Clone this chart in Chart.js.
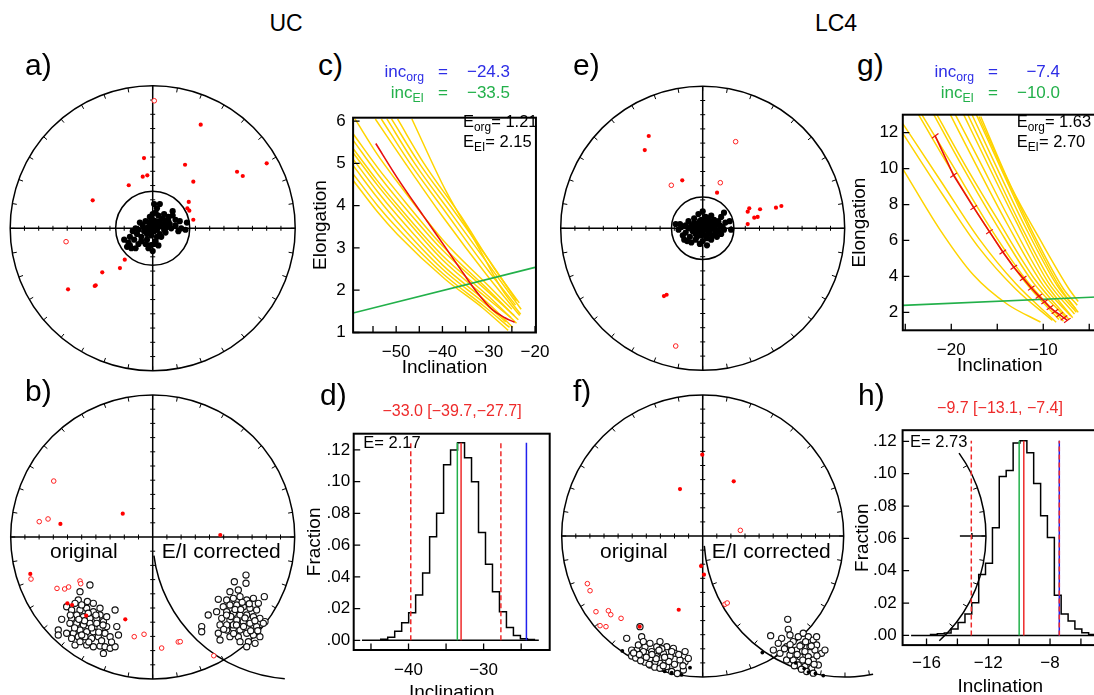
<!DOCTYPE html>
<html><head><meta charset="utf-8">
<script src="https://cdn.jsdelivr.net/npm/chart.js@4.4.1/dist/chart.umd.min.js"></script>
<style>
html,body{margin:0;padding:0;background:#fff;width:1094px;height:695px;overflow:hidden;position:relative;font-family:'Liberation Sans',Arial,Helvetica,sans-serif;}
canvas{position:absolute;}
.t{position:absolute;white-space:pre;line-height:1;}
.t sub{font-size:72%;vertical-align:baseline;position:relative;top:0.32em;}
</style></head><body>
<script>
// ---------------- DATA ----------------
// Stereonet coordinates: x,y in percent of net radius (y up)
const aBlack = [[-18,-13],[-17,-10],[-15,-14],[-12,-14],[-13,-8],[-10,-11],[-8,-6],[-11,-4],[-14,-2],[-16,-6],
[-6,-2],[-4,-8],[-2,-12],[0,-16],[-1,-5],[1,-2],[3,-6],[2,-9],[5,-4],[-3,1],
[-7,2],[-9,4],[-5,5],[-2,4],[0,6],[2,3],[4,1],[6,2],[8,-1],[10,1],
[12,3],[9,5],[7,7],[4,9],[2,11],[0,10],[-2,8],[3,14],[1,17],[5,17],
[8,10],[11,8],[14,9],[16,6],[19,5],[14,12],[18,-2],[23,-1],[24,4],[20,0],
[-4,-4],[-1,-1],[3,-1],[6,-6],[9,-3],[-8,-9],[-5,-11],[-3,-14],[1,-11],[4,-12],
[-12,0],[-10,-1],[-6,0],[-1,2],[2,5],[5,5],[8,3],[11,5],[13,0],[16,2],
[-20,-8],[-16,-12],[0,0],[1,1],[-2,-2]];
const aRedFilled = [[33.7,72.7],[-6.1,49.3],[22.7,44.6],[80,45.6],[59.2,39.7],[63.2,36.7],[-7,36.2],[-3.8,37.2],[28.5,32.7],[-16.8,30.2],[-42.1,19.6],[25.3,18.5],[24.3,14],[25.7,12.4],[28.5,6],[-19.6,-22],[-23,-27.9],[-35.4,-30.9],[-40.7,-40.5],[-40,-40],[-59.4,-42.8]];
const aRedOpen = [[1.1,89.5],[-60.8,-9.4]];
const aAlpha95 = 26;

const bBlackOrig = [[-51.2,-38.5],[-44.2,-33.8],[-52.4,-44.4],[-54.7,-46.7],[-60.6,-49.1],[-57.1,-51.4],[-51.2,-51.4],[-46.5,-50.2],[-41.8,-52.6],[-37.1,-54.9],
[-39.4,-57.3],[-44.2,-57.3],[-48.8,-56.1],[-53.5,-54.9],[-57.1,-57.3],[-64.1,-58],[-58.3,-60.8],[-53.5,-60.8],[-48.8,-62],[-44.2,-60.8],
[-39.4,-60.8],[-37.1,-64.3],[-41.8,-66.7],[-46.5,-66.7],[-51.2,-65.5],[-55.9,-67.8],[-60.6,-67.8],[-66.5,-65.5],[-66.5,-69],[-57.1,-71.4],
[-52.4,-70.2],[-47.7,-70.2],[-43,-71.4],[-38.3,-70.2],[-33.6,-67.8],[-30,-70.2],[-26.5,-51.4],[-24.1,-69],[-25.3,-63.1],[-32.4,-63.1],
[-34.7,-59.6],[-46.5,-76.1],[-41.8,-77.3],[-37.1,-76.8],[-33.6,-77.3],[-30,-78.4],[-26.5,-77.3],[-34.7,-82],[-54.7,-76.1],[-51.2,-73.7],
[-45.4,-53.7],[-50,-47.8],[-46,-45.4],[-41.8,-46.7],[-37.1,-50.2],[-32.4,-56.1],[-48,-59],[-43,-64],[-38,-67],[-55,-64],
[-50,-69],[-45,-74],[-36,-73],[-29,-74],[-40,-55],[-35,-62],[-52,-58],[-58,-55]];
const bBlackEI = [[65.7,-26.8],[57.5,-31.5],[65.7,-32.6],[60.3,-37.3],[54.4,-38.5],[46.2,-43.9],[52.1,-44.4],[56.8,-43.2],[61.5,-42],[66.2,-44.4],
[70.9,-43.2],[74.4,-46.7],[78.6,-42],[73.2,-51.4],[68.5,-50.2],[63.8,-49.1],[59.2,-47.9],[54.4,-47.9],[49.7,-49.1],[52.1,-52.6],
[56.8,-53.8],[61.5,-54.9],[66.2,-54.9],[70.9,-56.1],[75.5,-57.3],[79.1,-59.6],[39.1,-54.9],[45,-52.6],[48.6,-57.3],[54.4,-58.5],
[59.2,-58.5],[63.8,-59.6],[68.5,-60.8],[73.2,-63.1],[77.9,-60.8],[34.5,-63.1],[34.5,-66.7],[46.2,-67.8],[52.1,-65.5],[56.8,-64.3],
[61.5,-65.5],[66.2,-67.8],[70.9,-69],[75.5,-70.2],[47.4,-72.5],[54.4,-70.2],[60.3,-70.2],[67.4,-73.7],[72.1,-74.9],[66.2,-77.3],
[61.5,-73.7],[56.8,-61.9],[52.1,-61.9],[47.4,-61.9],[58,-51],[63,-46],[68,-47],[55,-56],[65,-57],[72,-59],
[50,-65],[59,-62],[64,-63],[69,-66],[74,-66],[57,-68],[52,-55],[62,-51]];
const bRedFilled = [[-86.2,-26],[-65,9.2],[-21.1,16.4],[47.6,1.4],[-60.1,-46.7],[-56.8,-47.9],[-46.8,-55.4],[-19.3,-58]];
const bRedOpen = [[-69.7,39.4],[-79.9,10.8],[-73.7,12.7],[-85.7,-29.6],[-67.4,-36.2],[-62,-36.6],[-59.2,-35.2],[-51.2,-31],[-50.7,-32.9],[-13,-70.2],[-6.1,-68.5],[6.3,-78.2],[18,-73.9],[19.4,-73.7],[43,-83.6]];

const eBlack = [[-19,3],[-17,-1],[-15,1],[-14,-5],[-13,-8],[-11,-9],[-9,-6],[-12,-3],[-10,0],[-8,2],
[-6,4],[-7,-2],[-5,-4],[-4,0],[-3,3],[-2,-2],[-1,1],[0,-3],[1,2],[2,-1],
[3,4],[4,0],[5,-2],[6,3],[7,-5],[8,1],[9,-1],[10,3],[11,-2],[12,2],
[-3,10],[0,12],[2,8],[-1,6],[4,7],[6,9],[13,8],[15,11],[16,4],[19,5],
[20,-1],[15,-1],[13,-4],[10,-6],[3,-7],[0,-9],[-2,-11],[3,-12],[-5,-8],[-8,-10],
[-10,5],[-6,7],[-2,5],[1,5],[5,5],[8,6],[-4,-6],[-1,-5],[2,-5],[6,-8],
[-16,3],[-12,2],[-7,0],[-3,-1],[0,0],[3,1],[6,0],[9,-3],[11,5],[14,1],
[-1,3],[2,2],[-5,2],[4,-4],[7,3]];
const eRedFilled = [[-38,65],[-40.8,55.1],[-14.4,33.8],[10.1,25.1],[32.8,14.1],[31.7,11.7],[40.4,13.4],[51.6,14.5],[55.4,15.7],[36.3,7.5],[38.7,8],[31.7,3],[-27.3,-47.7],[-25.4,-46.8]];
const eRedOpen = [[23.2,61],[-22.1,30.3],[12.4,32.1],[-19,-82.9]];
const eAlpha95 = 22;

const fBlackOrig = [[-53.9,-72.6],[-44.5,-64.3],[-43.3,-71.4],[-40.9,-78.5],[-46.8,-80.9],[-50.4,-85.1],[-47.5,-86.5],[-43.3,-85.6],[-39.7,-83.2],[-36.2,-82],
[-32.6,-78.5],[-30.3,-74.9],[-25.5,-78.5],[-20.8,-79.7],[-19.6,-83.2],[-23.1,-85.6],[-26.7,-87.9],[-30.3,-90.3],[-33.8,-89.1],[-37.4,-91.5],
[-41,-89.5],[-44,-88.5],[-38,-91],[-34,-93],[-30.3,-93.8],[-25.5,-92.6],[-22,-96.1],[-18,-97.5],[-13.7,-95],[-12.5,-89.1],
[-12.5,-82],[-10.2,-86.8],[-16.1,-87.9],[-27.9,-83.2],[-32.6,-85.6],[-37.4,-86.8],[-42.1,-82],[-45.6,-77.3],[-42.1,-74.9],[-37.4,-76.1],
[-50.4,-80.9],[-29,-80],[-22,-82],[-17,-84],[-24,-89],[-28,-92],[-33,-87],[-20,-91],[-14,-92],[-36,-84],
[-31,-81],[-27,-86],[-40,-86],[-45,-84],[-49,-83]];
const fBlackEI = [[48.2,-70.7],[56,-72.6],[60.3,-59.1],[60.7,-66.2],[61.9,-70.2],[53.6,-76.1],[50.1,-80.9],[54.8,-83.2],[59.5,-78.5],[64.2,-74.9],
[67.8,-71.4],[71.3,-69],[74.9,-71.4],[78.4,-73.8],[80.8,-77.3],[84.3,-83.2],[79.6,-80.9],[76.1,-78.5],[72.5,-82],[69,-85.6],
[64.2,-87.9],[59.5,-87.9],[61.9,-84.4],[66.6,-80.9],[70.1,-77.3],[74.9,-85.6],[78.4,-87.9],[82,-91.5],[77.3,-93.8],[72.5,-92.6],
[67.8,-91.5],[73.7,-96.1],[78.4,-97.3],[70,-94.5],[80.8,-71.4],[86.7,-80.9],[63,-81],[67,-84],[71,-88],[75,-89],
[79,-91],[69,-78],[73,-75],[77,-78],[81,-85],[65,-92],[62,-77],[58,-80]];
const fBlackDots = [[-57,-81.5],[-9,-93.4],[-15,-98.5],[-27,-96],[-22,-97],[42.3,-82.7],[85.5,-99],[80,-97.5],[75,-96.5],[66,-90],[72,-94]];
const fRedFilled = [[-0.3,57.7],[-16.1,33.3],[22,38.8],[-1.2,-21.3],[0.9,-27.4],[-44.7,-64.3],[-17,-52.3]];
const fRedOpen = [[26.7,4],[-81.8,-33.8],[-79.9,-38.8],[-75.7,-53.7],[-66.9,-53],[-65.2,-55.8],[-57.9,-58.4],[-72.8,-63.6],[-68.6,-64.3],[15.8,-48.4],[17.4,-47.5]];

// E/I plots: [inclination, elongation]
const cYellow = [
[[-59.3,4.6],[-54,3.85],[-49.7,3.32],[-39.4,2.26],[-31.3,1.58],[-25.8,1.05]],
[[-59.3,4.75],[-54,4.0],[-50,3.5],[-40,2.4],[-31,1.62],[-25.5,1.12]],
[[-59.3,4.95],[-54,4.18],[-50,3.65],[-40,2.5],[-31,1.7],[-26.3,1.25]],
[[-59.3,5.1],[-54,4.33],[-50,3.8],[-40,2.6],[-30,1.68],[-24.8,1.12]],
[[-59.3,5.25],[-54,4.48],[-50,3.95],[-40,2.72],[-30,1.78],[-25.2,1.35]],
[[-59.3,5.35],[-54,4.58],[-50,4.05],[-40,2.82],[-30,1.85],[-24.0,1.22]],
[[-59.3,5.55],[-54,4.75],[-50,4.2],[-40,2.95],[-30,1.95],[-24.5,1.4]],
[[-59.3,5.7],[-54,4.9],[-50,4.35],[-40,3.05],[-30,2.0],[-23.6,1.3]],
[[-58.9,6.05],[-54,5.2],[-50,4.6],[-40,3.2],[-30,2.1],[-25.0,1.55]],
[[-54.5,6.05],[-48,5.0],[-40,3.75],[-30,2.3],[-23.3,1.4]],
[[-53.2,6.05],[-47,5.0],[-40,3.95],[-30,2.45],[-24.2,1.65]],
[[-52.0,6.05],[-46,5.0],[-38,3.8],[-30,2.6],[-23.0,1.55]],
[[-51.0,6.05],[-45,5.0],[-38,3.95],[-30,2.72],[-24.0,1.75]],
[[-49.7,6.05],[-44,5.0],[-36,3.75],[-29,2.55],[-23.4,1.7]],
[[-46.6,6.05],[-39.4,4.38],[-32.6,3.09],[-27.2,2.03],[-23.1,1.43]]];
const cRed = [[-54.4,5.47],[-49.65,4.64],[-44.2,3.77],[-39.4,3.02],[-35.3,2.37],[-32.6,1.96],[-29.2,1.54],[-26.5,1.35],[-24.4,1.24]];
const cGreen = [[-59.3,1.46],[-20,2.54]];

const gYellow = [
[[-25.27,9.99],[-21.2,6.58],[-17.56,4.06],[-13.9,2.45],[-10.3,1.46]],
[[-25.27,11.96],[-21,8.6],[-17,5.6],[-13,3.3],[-9.0,1.55]],
[[-25.27,12.5],[-21,9.2],[-17,6.1],[-13,3.6],[-8.6,1.45]],
[[-23.56,13.0],[-20,9.9],[-16,6.6],[-12,3.7],[-8.3,1.6]],
[[-23.2,13.0],[-20,10.3],[-16,6.9],[-12,3.9],[-7.8,1.5]],
[[-21.9,13.0],[-19,10.3],[-15,6.8],[-11,3.6],[-7.5,1.7]],
[[-21.56,13.0],[-18.5,10.2],[-15,7.2],[-11,3.9],[-7.2,1.6]],
[[-20.1,13.0],[-17.5,10.4],[-14,7.0],[-10,3.5],[-7.0,1.8]],
[[-19.56,13.0],[-17,10.5],[-14,7.5],[-10,3.8],[-6.8,1.7]],
[[-18.65,13.0],[-16,10.2],[-13,7.1],[-9.5,3.7],[-6.6,1.9]],
[[-18.2,13.0],[-15.5,10.1],[-12.5,6.9],[-9,3.6],[-6.4,2.0]],
[[-17.74,13.0],[-15,10.0],[-12,6.8],[-8.5,3.5],[-6.5,2.2]],
[[-17.27,13.0],[-14.5,9.9],[-11.5,6.6],[-8.2,3.4],[-6.2,2.0]],
[[-17.0,12.9],[-14,9.5],[-11,6.3],[-7.8,3.3],[-6.3,2.4]],
[[-16.8,12.9],[-13.5,9.0],[-10.3,6.0],[-7.2,3.3],[-6.2,2.6]]];
const gRed = [[-21.75,11.82],[-19.75,9.63],[-17.56,7.83],[-15.85,6.49],[-14.4,5.36],[-13.2,4.51],[-12.18,3.89],[-11.3,3.35],[-10.47,2.9],[-9.85,2.59],[-9.27,2.27],[-8.73,2.05],[-8.22,1.87],[-7.75,1.69],[-7.38,1.55]];
const gGreen = [[-25.27,2.39],[-4.2,2.85]];

// Histograms
const dEdges = [-43.70,-42.77,-41.84,-40.91,-39.98,-39.05,-38.12,-37.19,-36.26,-35.33,-34.40,-33.47,-32.54,-31.61,-30.68,-29.75,-28.82,-27.89,-26.96,-26.03,-25.10,-24.17,-23.24];
const dVals = [0.0006,0.002,0.0057,0.011,0.0173,0.0286,0.0424,0.0653,0.080,0.1106,0.120,0.1245,0.115,0.100,0.068,0.048,0.0306,0.018,0.008,0.003,0.001,0.0005];
const dBase = [-46.2,-22.65];
const dIncOrg = -24.3, dIncEI = -33.5, dMean = -33.0, dCI = [-39.7,-27.7];

const hEdges = [-15.74,-15.30,-14.85,-14.41,-13.96,-13.51,-13.07,-12.62,-12.18,-11.73,-11.29,-10.84,-10.39,-9.95,-9.50,-9.06,-8.61,-8.17,-7.72,-7.28,-6.83,-6.39,-5.94,-5.50,-5.05];
const hVals = [0.0005,0.001,0.0015,0.004,0.0079,0.0133,0.0202,0.0377,0.0446,0.0665,0.0982,0.102,0.119,0.1204,0.113,0.094,0.074,0.0605,0.0248,0.0133,0.0089,0.004,0.0016,0.0005];
const hBase = [-17.0,-5.0];
const hIncOrg = -7.4, hIncEI = -10.0, hMean = -9.7, hCI = [-13.1,-7.4];

// Ticks
const cXTicks = [-55,-50,-45,-40,-35,-30,-25,-20], cXLabels = ['','−50','','−40','','−30','','−20'];
const cYTicks = [1,2,3,4,5,6], cYLabels = ['1','2','3','4','5','6'];
const gXTicks = [-25,-20,-15,-10,-5], gXLabels = ['','−20','','−10',''];
const gYTicks = [2,4,6,8,10,12], gYLabels = ['2','4','6','8','10','12'];
const dXTicks = [-45,-40,-35,-30,-25], dXLabels = ['','−40','','−30',''];
const hXTicks = [-16,-14,-12,-10,-8,-6], hXLabels = ['−16','','−12','','−8',''];
const fracTicks = [0,0.02,0.04,0.06,0.08,0.10,0.12], fracLabels = ['.00','.02','.04','.06','.08','.10','.12'];
const netAxisTicks = [0.1,0.2,0.3,0.4,0.5,0.6,0.7,0.8,0.9];
const netRimStep = 10;

// ---------------- COLOURS ----------------
const BLUE = '#2d2de6', GREEN = '#22b04a', RED = '#ee2a2a', YEL = '#ffd400', LRED = '#e81010';

Chart.defaults.font.family = "'Liberation Sans', Arial, Helvetica, sans-serif";
Chart.defaults.color = '#000';

const P = a => a.map(([x,y]) => ({x, y}));

function mkCanvas(b) {
  const c = document.createElement('canvas');
  c.width = Math.round(b.w); c.height = Math.round(b.h);
  c.style.left = b.x + 'px'; c.style.top = b.y + 'px';
  document.body.appendChild(c);
  return c;
}

const stereoPlugin = {
  id: 'stereo',
  beforeDatasetsDraw(chart, args, o) {
    const ctx = chart.ctx, xs = chart.scales.x, ys = chart.scales.y;
    const cx = xs.getPixelForValue(0), cy = ys.getPixelForValue(0);
    const R = xs.getPixelForValue(100) - cx;
    ctx.save();
    ctx.strokeStyle = '#000'; ctx.lineWidth = 1.5;
    ctx.beginPath(); ctx.arc(cx, cy, R, 0, 2*Math.PI); ctx.stroke();
    ctx.beginPath(); ctx.moveTo(cx-R, cy); ctx.lineTo(cx+R, cy); ctx.moveTo(cx, cy-R); ctx.lineTo(cx, cy+R); ctx.stroke();
    ctx.lineWidth = 1;
    ctx.beginPath();
    for (const f of netAxisTicks) {
      const d = f*R;
      for (const s of [-1,1]) {
        ctx.moveTo(cx+s*d, cy-2.5); ctx.lineTo(cx+s*d, cy+2.5);
        ctx.moveTo(cx-2.5, cy+s*d); ctx.lineTo(cx+2.5, cy+s*d);
      }
    }
    for (let a = 0; a < 360; a += netRimStep) {
      const t = a*Math.PI/180;
      ctx.moveTo(cx+R*Math.cos(t), cy+R*Math.sin(t));
      ctx.lineTo(cx+(R-4.5)*Math.cos(t), cy+(R-4.5)*Math.sin(t));
    }
    ctx.stroke();
    if (o.inner) {
      ctx.lineWidth = 1.5;
      ctx.beginPath(); ctx.arc(cx, cy, o.inner/100*R, 0, 2*Math.PI); ctx.stroke();
    }
    if (o.ei) {
      const ex = xs.getPixelForValue(o.ei.cx);
      ctx.lineWidth = 1.5;
      for (const [a1, a2] of o.ei.ranges) {
        ctx.beginPath(); ctx.arc(ex, cy, R, a1*Math.PI/180, a2*Math.PI/180, true); ctx.stroke();
        if (o.ei.ticks) {
          ctx.lineWidth = 1; ctx.beginPath();
          for (let a = Math.ceil(a2/10)*10; a <= a1; a += 10) {
            const t = a*Math.PI/180;
            ctx.moveTo(ex+R*Math.cos(t), cy+R*Math.sin(t));
            ctx.lineTo(ex+(R-4.5)*Math.cos(t), cy+(R-4.5)*Math.sin(t));
          }
          ctx.stroke(); ctx.lineWidth = 1.5;
        }
      }
      if (o.ei.stub) {
        ctx.beginPath(); ctx.moveTo(ex+0.815*R, cy); ctx.lineTo(ex+R, cy);
        ctx.moveTo(ex+0.9*R, cy-3); ctx.lineTo(ex+0.9*R, cy+3); ctx.stroke();
      }
    }
    ctx.restore();
  }
};

function stereo(cx, cy, R, box, sets, opt) {
  const area = {l: cx-R, r: cx+R, t: cy-R, b: cy+R};
  const c = mkCanvas(box);
  new Chart(c, {
    type: 'scatter',
    data: {datasets: sets},
    plugins: [stereoPlugin],
    options: {
      responsive: false, animation: false, devicePixelRatio: 1,
      layout: {padding: {left: area.l-box.x, top: area.t-box.y, right: box.x+box.w-area.r, bottom: box.y+box.h-area.b}},
      scales: {x: {type:'linear', min:-100, max:100, display:false}, y: {type:'linear', min:-100, max:100, display:false}},
      plugins: {legend: {display:false}, tooltip: {enabled:false}, stereo: opt}
    }
  });
}

const ds = {
  blackFilled: d => ({data:P(d), pointRadius:3.1, pointBackgroundColor:'#000', pointBorderWidth:0, order:3, clip:false}),
  blackSmall: d => ({data:P(d), pointRadius:1.9, pointBackgroundColor:'#000', pointBorderWidth:0, order:2, clip:false}),
  blackOpen: d => ({data:P(d), pointRadius:3.1, pointBackgroundColor:'#fff', pointBorderColor:'#111', pointBorderWidth:1.15, order:4, clip:false}),
  redFilled: d => ({data:P(d), pointRadius:2.1, pointBackgroundColor:'#ff0000', pointBorderWidth:0, order:0, clip:false}),
  redOpen: d => ({data:P(d), pointRadius:2.3, pointBackgroundColor:'#fff', pointBorderColor:'#ff2020', pointBorderWidth:1, order:1, clip:false})
};

const framePlugin = {
  id: 'frame',
  afterDatasetsDraw(chart, args, o) {
    const ctx = chart.ctx, a = chart.chartArea, xs = chart.scales.x, ys = chart.scales.y;
    ctx.save();
    ctx.strokeStyle = '#000'; ctx.lineWidth = 1.3;
    ctx.beginPath();
    for (const v of o.xTicks) { const px = xs.getPixelForValue(v); ctx.moveTo(px, a.bottom); ctx.lineTo(px, a.bottom-6.5); }
    for (const v of o.yTicks) { const py = ys.getPixelForValue(v); ctx.moveTo(a.left, py); ctx.lineTo(a.left+6.5, py); }
    ctx.stroke();
    ctx.lineWidth = 2;
    ctx.strokeRect(a.left, a.top, a.right-a.left, a.bottom-a.top);
    ctx.restore();
  }
};

function plot(box, area, o) {
  const c = mkCanvas(box);
  new Chart(c, {
    type: 'scatter',
    data: {datasets: o.datasets},
    plugins: [framePlugin],
    options: {
      responsive: false, animation: false, devicePixelRatio: 1,
      layout: {padding: {left: 0, top: area.t-box.y, right: box.x+box.w-area.r, bottom: 0}},
      elements: {point: {radius: 0}},
      scales: {
        x: {type:'linear', min:o.xMin, max:o.xMax, bounds:'data',
          afterBuildTicks: s => { s.ticks = o.xTicks.map(v => ({value:v})); },
          afterFit: s => { s.height = box.y+box.h-area.b; },
          ticks: {autoSkip:false, maxRotation:0, padding:o.xPad, font:{size:17}, color:'#000', callback:(v,i) => o.xLabels[i]},
          grid: {display:false, drawTicks:false}, border: {display:false},
          title: {display:true, text:'Inclination', font:{size:19}, color:'#000', padding:0}},
        y: {type:'linear', min:o.yMin, max:o.yMax, bounds:'data',
          afterBuildTicks: s => { s.ticks = o.yTicks.map(v => ({value:v})); },
          afterFit: s => { s.width = area.l-box.x; },
          ticks: {autoSkip:false, padding:o.yPad, font:{size:17}, color:'#000', callback:(v,i) => o.yLabels[i]},
          grid: {display:false, drawTicks:false}, border: {display:false},
          title: {display:true, text:o.yTitle, font:{size:19}, color:'#000', padding:0}}
      },
      plugins: {legend:{display:false}, tooltip:{enabled:false}, frame:{xTicks:o.xTicks, yTicks:o.yTicks}}
    }
  });
}

const lineDs = (d, color, w, order, extra) => Object.assign({data:P(d), showLine:true, borderColor:color, borderWidth:w, pointRadius:0, order}, extra||{});

function histSets(edges, vals, base, incOrg, incEI, mean, ci) {
  const pts = [[edges[0],0]];
  vals.forEach((v,i) => pts.push([edges[i], v]));
  pts.push([edges[edges.length-1], 0]);
  const top = Math.max(...vals);
  const vl = (x, col, dash, ord) => lineDs([[x,0],[x,top]], col, 1.5, ord, dash ? {borderDash:[5,3]} : {});
  return [
    lineDs(pts, '#000', 1.5, 5, {stepped:true}),
    lineDs([[base[0],0],[base[1],0]], '#000', 1.5, 6),
    vl(incOrg, '#2020ee', false, 4),
    vl(ci[0], RED, true, 1), vl(ci[1], RED, true, 1),
    vl(incEI, GREEN, false, 3),
    vl(mean, RED, false, 2)
  ];
}

// ---------------- STEREONETS ----------------
stereo(152.7, 228.3, 142.5, {x:0, y:78, w:310, h:300},
  [ds.blackFilled(aBlack), ds.redFilled(aRedFilled), ds.redOpen(aRedOpen)], {inner:aAlpha95});
stereo(152.7, 537, 142, {x:0, y:385, w:450, h:310},
  [ds.blackOpen(bBlackOrig), ds.blackOpen(bBlackEI), ds.redFilled(bRedFilled), ds.redOpen(bRedOpen)],
  {ei:{cx:100, ranges:[[172.5,94]], ticks:false, stub:false}});
stereo(702.7, 228.3, 142, {x:550, y:78, w:300, h:300},
  [ds.blackFilled(eBlack), ds.redFilled(eRedFilled), ds.redOpen(eRedOpen)], {inner:eAlpha95});
stereo(702.7, 536, 141, {x:550, y:385, w:544, h:310},
  [ds.blackOpen(fBlackOrig), ds.blackOpen(fBlackEI), ds.blackSmall(fBlackDots), ds.redFilled(fRedFilled), ds.redOpen(fRedOpen)],
  {ei:{cx:100.9, ranges:[[176,78.5],[48,-36]], ticks:true, stub:true}});

// ---------------- E/I PLOTS ----------------
plot({x:308.6, y:100, w:250, h:279}, {l:352.7, t:108.3, r:546, b:332.5}, {
  xMin:-59.3, xMax:-19.8, yMin:1, yMax:6.08, xTicks:cXTicks, xLabels:cXLabels, yTicks:cYTicks, yLabels:cYLabels,
  xPad:9.5, yPad:7.5, yTitle:'Elongation',
  datasets: [...cYellow.map(c => lineDs(c, YEL, 1.5, 3, {cubicInterpolationMode:'monotone'})),
             lineDs(cRed, LRED, 1.6, 0, {cubicInterpolationMode:'monotone'}), lineDs(cGreen, GREEN, 1.6, 1)]
});
plot({x:847.9, y:100, w:260, h:277.4}, {l:902.7, t:108.3, r:1096.5, b:330.7}, {
  xMin:-25.27, xMax:-4.2, yMin:1, yMax:13, xTicks:gXTicks, xLabels:gXLabels, yTicks:gYTicks, yLabels:gYLabels,
  xPad:9.5, yPad:4.5, yTitle:'Elongation',
  datasets: [...gYellow.map(c => lineDs(c, YEL, 1.5, 3, {cubicInterpolationMode:'monotone'})),
             lineDs(gRed, LRED, 1.6, 0, {pointRadius:4, pointStyle:'line', pointRotation:-35, pointBorderColor:LRED, pointBorderWidth:1.2}),
             lineDs(gGreen, GREEN, 1.6, 1)]
});

// ---------------- HISTOGRAMS ----------------
plot({x:302.6, y:420, w:253, h:284}, {l:353.3, t:427.3, r:549.3, b:650}, {
  xMin:-47.3, xMax:-21.2, yMin:-0.0061, yMax:0.1302, xTicks:dXTicks, xLabels:dXLabels, yTicks:fracTicks, yLabels:fracLabels,
  xPad:10, yPad:3.5, yTitle:'Fraction',
  datasets: histSets(dEdges, dVals, dBase, dIncOrg, dIncEI, dMean, dCI)
});
plot({x:851.1, y:414, w:260, h:283.9}, {l:902.7, t:421.7, r:1098, b:645}, {
  xMin:-17.55, xMax:-4.9, yMin:-0.006, yMax:0.1269, xTicks:hXTicks, xLabels:hXLabels, yTicks:fracTicks, yLabels:fracLabels,
  xPad:8.5, yPad:6, yTitle:'Fraction',
  datasets: histSets(hEdges, hVals, hBase, hIncOrg, hIncEI, hMean, hCI)
});

// ---------------- TEXT ----------------
function txt(html, x, base, size, color, align) {
  const d = document.createElement('div'); d.className = 't';
  d.innerHTML = html; d.style.fontSize = size + 'px'; d.style.color = color || '#000';
  d.style.top = (base - 0.8465*size) + 'px'; d.style.left = x + 'px';
  if (align === 'center') d.style.transform = 'translateX(-50%)';
  else if (align === 'right') d.style.transform = 'translateX(-100%)';
  document.body.appendChild(d);
}
txt('UC', 286, 31.7, 23, '#000', 'center');
txt('LC4', 836, 31.7, 23, '#000', 'center');
[['a)',25,75],['b)',25,401],['c)',318,75],['d)',320,405],['e)',573,75],['f)',573,401],['g)',857,75],['h)',858,405]]
  .forEach(([s,x,b]) => txt(s, x, b, 30));
[[0,'−24.3','−33.5'],[550,'−7.4','−10.0']].forEach(([dx,o,e]) => {
  txt('inc<sub>org</sub>', 424+dx, 77.3, 17, BLUE, 'right'); txt('=', 443+dx, 77.3, 17, BLUE, 'center'); txt(o, 510+dx, 77.3, 17, BLUE, 'right');
  txt('inc<sub>EI</sub>', 424+dx, 98.3, 17, GREEN, 'right'); txt('=', 443+dx, 98.3, 17, GREEN, 'center'); txt(e, 510+dx, 98.3, 17, GREEN, 'right');
});
txt('E<sub>org</sub>= 1.21', 463, 127.3, 16.5); txt('E<sub>EI</sub>= 2.15', 463, 147.3, 16.5);
txt('E<sub>org</sub>= 1.63', 1016.7, 127.3, 16.5); txt('E<sub>EI</sub>= 2.70', 1016.7, 147.3, 16.5);
txt('−33.0 [−39.7,−27.7]', 452, 417, 16, RED, 'center');
txt('−9.7 [−13.1, −7.4]', 1000, 414, 16, RED, 'center');
txt('E= 2.17', 363.3, 448, 16.5); txt('E= 2.73', 910, 447, 16.5);
txt('original', 50, 558, 21); txt('E/I corrected', 161.7, 558, 21);
txt('original', 600, 558, 21); txt('E/I corrected', 711.7, 558, 21);
</script></body></html>
